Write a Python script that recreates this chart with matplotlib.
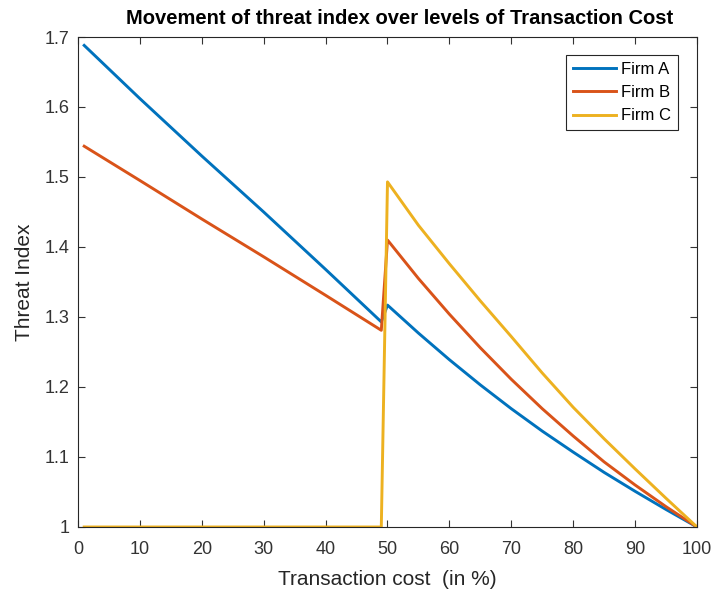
import matplotlib
matplotlib.use("Agg")
import matplotlib.pyplot as plt

plt.rcParams['font.family'] = ['Liberation Sans', 'DejaVu Sans']

# transaction cost (%) sample points
cost = [1, 10, 20, 30, 40, 49, 50, 55, 60, 65, 70, 75, 80, 85, 90, 95, 100]

firm_a = [1.688, 1.612, 1.530, 1.450, 1.368, 1.293, 1.317, 1.277, 1.239, 1.203,
          1.169, 1.137, 1.107, 1.078, 1.051, 1.025, 1.0]
firm_b = [1.544, 1.495, 1.440, 1.386, 1.331, 1.281, 1.410, 1.355, 1.304, 1.256,
          1.211, 1.169, 1.130, 1.093, 1.060, 1.029, 1.0]
firm_c = [1.0, 1.0, 1.0, 1.0, 1.0, 1.0, 1.493, 1.431, 1.376, 1.323,
          1.272, 1.220, 1.171, 1.126, 1.083, 1.041, 1.0]

labels = ["Firm A", "Firm B", "Firm C"]
colors = ["#0072BD", "#D95319", "#EDB120"]

fig = plt.figure(figsize=(7.11, 5.92), dpi=100)
ax = fig.add_axes([0.1097, 0.1098, 0.8706, 0.8277])

for ys, lab, c in zip([firm_a, firm_b, firm_c], labels, colors):
    ax.plot(cost, ys, color=c, linewidth=2.1, label=lab)

ax.set_xlim(0, 100)
ax.set_ylim(1, 1.7)
ax.set_xticks(range(0, 101, 10))
ax.set_yticks([1, 1.1, 1.2, 1.3, 1.4, 1.5, 1.6, 1.7])
ax.set_yticklabels(["1", "1.1", "1.2", "1.3", "1.4", "1.5", "1.6", "1.7"])

ax.tick_params(direction='in', top=True, right=True, length=5, width=0.8,
               labelsize=13, colors='#333333')
ax.tick_params(axis='x', pad=10)
ax.tick_params(axis='y', pad=6)
for s in ax.spines.values():
    s.set_color('#262626')
    s.set_linewidth(0.8)

ax.set_xlabel("Transaction cost  (in %)", fontsize=15, color='#262626',
              labelpad=9)
ax.set_ylabel("Threat Index", fontsize=15, color='#262626', labelpad=8)
ax.set_title("Movement of threat index over levels of Transaction Cost",
             fontsize=14.5, fontweight='bold', pad=9, x=0.52)

leg = ax.legend(loc='upper right', fontsize=12, fancybox=False,
                edgecolor='#262626', framealpha=1, handlelength=2.6,
                handletextpad=0.3, labelspacing=0.5, borderaxespad=0,
                bbox_to_anchor=(0.969, 0.963))
leg.get_frame().set_linewidth(0.8)

fig.savefig("out.png", dpi=100, facecolor='white')
